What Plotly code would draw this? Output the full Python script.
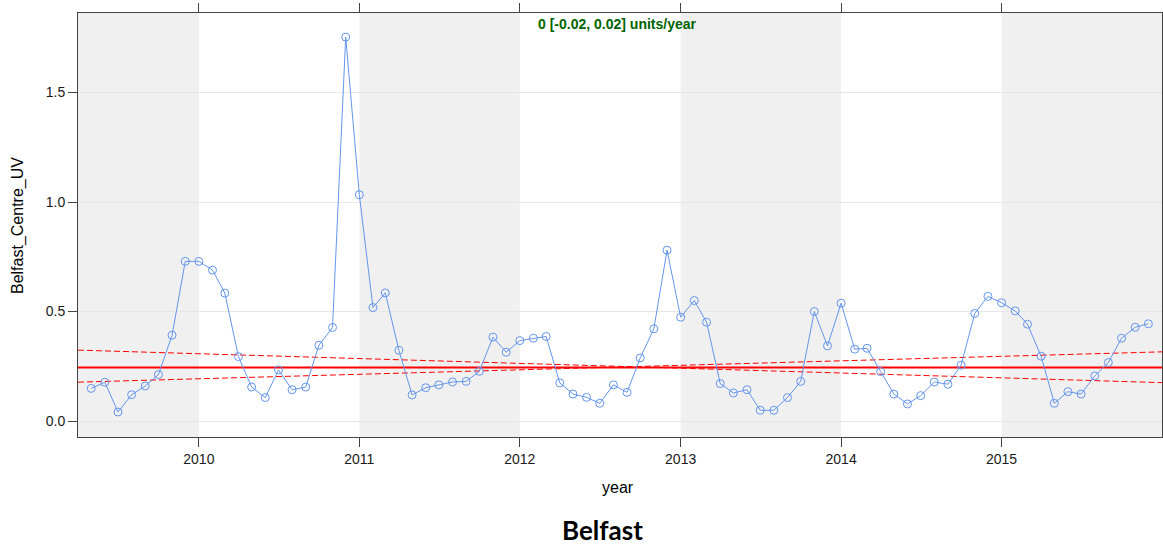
import plotly.graph_objects as go
import pandas as pd

# Monthly mean UV concentration at Belfast Centre, May 2009 - Dec 2015
start_month = "2009-05-01"
uv_values = [
    0.149, 0.177, 0.041, 0.120, 0.160, 0.212, 0.392, 0.729,            # 2009 May-Dec
    0.729, 0.689, 0.584, 0.294, 0.155, 0.107, 0.233, 0.143,            # 2010
    0.155, 0.346, 0.427, 1.753,
    1.033, 0.518, 0.585, 0.323, 0.119, 0.152, 0.165, 0.178,            # 2011
    0.181, 0.227, 0.383, 0.314,
    0.367, 0.378, 0.386, 0.174, 0.123, 0.108, 0.081, 0.165,            # 2012
    0.131, 0.288, 0.421, 0.780,
    0.474, 0.550, 0.451, 0.171, 0.128, 0.143, 0.049, 0.049,            # 2013
    0.107, 0.181, 0.500, 0.343,
    0.538, 0.328, 0.332, 0.226, 0.123, 0.078, 0.116, 0.178,            # 2014
    0.168, 0.255, 0.491, 0.569,
    0.540, 0.503, 0.442, 0.296, 0.081, 0.134, 0.123, 0.206,            # 2015
    0.267, 0.378, 0.428, 0.444,
]
dates = pd.date_range(start_month, periods=len(uv_values), freq="MS")

# Theil-Sen trend estimate and its confidence interval (units/year)
trend_slope = 0.0
trend_intercept = 0.244
slope_lower = -0.022
slope_upper = 0.0205
ci_pivot_year = 2012.69
ci_pivot_value = 0.248

x_start = pd.Timestamp("2009-04-01")
x_end = pd.Timestamp("2016-01-01")
year_ticks = [2010, 2011, 2012, 2013, 2014, 2015]
shaded_years = [(None, 2010), (2011, 2012), (2013, 2014), (2015, None)]


def decimal_year(ts):
    y0 = pd.Timestamp(year=ts.year, month=1, day=1)
    y1 = pd.Timestamp(year=ts.year + 1, month=1, day=1)
    return ts.year + (ts - y0) / (y1 - y0)


ends = [x_start, x_end]
end_years = [decimal_year(t) for t in ends]

fig = go.Figure()

# trend line
fig.add_trace(go.Scatter(
    x=ends, y=[trend_intercept + trend_slope * (y - ci_pivot_year) for y in end_years],
    mode="lines", line=dict(color="#FF0000", width=2), hoverinfo="skip", showlegend=False))

# confidence interval lines
for s in (slope_lower, slope_upper):
    fig.add_trace(go.Scatter(
        x=ends, y=[ci_pivot_value + s * (y - ci_pivot_year) for y in end_years],
        mode="lines", line=dict(color="#FF0000", width=1, dash="6px,3px"),
        hoverinfo="skip", showlegend=False))

# observations
fig.add_trace(go.Scatter(
    x=dates, y=uv_values, mode="lines+markers",
    line=dict(color="#6495ED", width=1),
    marker=dict(symbol="circle-open", size=8, color="#6495ED", line=dict(width=1)),
    showlegend=False))

# alternating year shading
shapes = []
for a, b in shaded_years:
    x0 = x_start if a is None else pd.Timestamp(year=a, month=1, day=1)
    x1 = x_end if b is None else pd.Timestamp(year=b, month=1, day=1)
    shapes.append(dict(type="rect", xref="x", yref="paper", x0=x0, x1=x1, y0=0, y1=1,
                       fillcolor="#F0F0F0", line=dict(width=0), layer="below"))

L, R, T, B = 78, 1, 13, 113
W, H = 1163, 550
pw, ph = W - L - R, H - T - B


def px(xp):
    return (xp - L) / pw


def py(yp):
    return (H - B - yp) / ph


annotations = [
    dict(text="<b>0 [-0.02, 0.02] units/year</b>", x=px(617), y=py(24), xref="paper", yref="paper",
         showarrow=False, font=dict(family="Liberation Sans, Arial", size=14, color="#006400"),
         xanchor="center", yanchor="middle"),
    dict(text="year", x=px(618), y=py(487), xref="paper", yref="paper", showarrow=False,
         font=dict(family="Liberation Sans, Arial", size=16, color="#000000"),
         xanchor="center", yanchor="middle"),
    dict(text="Belfast_Centre_UV", x=px(18), y=py(226), xref="paper", yref="paper", showarrow=False,
         textangle=-90, font=dict(family="Liberation Sans, Arial", size=16, color="#000000"),
         xanchor="center", yanchor="middle"),
    dict(text="<b>Belfast</b>", x=px(602), y=py(530), xref="paper", yref="paper", showarrow=False,
         font=dict(family="Lato, Open Sans", size=26, color="#000000"),
         xanchor="center", yanchor="middle"),
]

fig.update_layout(
    width=W, height=H,
    margin=dict(l=L, r=R, t=T, b=B, pad=0),
    paper_bgcolor="white", plot_bgcolor="white",
    shapes=shapes, annotations=annotations,
    font=dict(family="Liberation Sans, Arial", size=14, color="#1a1a1a"),
    xaxis=dict(
        type="date", range=[x_start, x_end],
        tickvals=[pd.Timestamp(year=y, month=1, day=1) for y in year_ticks],
        ticktext=[str(y) for y in year_ticks],
        ticks="outside", ticklen=9, tickcolor="#444444", tickwidth=1,
        showgrid=False, zeroline=False,
        showline=True, linecolor="#444444", linewidth=1, mirror="ticks",
    ),
    yaxis=dict(
        range=[-0.073, 1.863],
        tickvals=[0.0, 0.5, 1.0, 1.5], ticktext=["0.0", "0.5", "1.0", "1.5"],
        ticks="outside", ticklen=9, tickcolor="#444444", tickwidth=1,
        showgrid=True, gridcolor="#E6E6E6", gridwidth=1, zeroline=False,
        showline=True, linecolor="#444444", linewidth=1, mirror=True,
    ),
)

fig.write_html("out.html")
